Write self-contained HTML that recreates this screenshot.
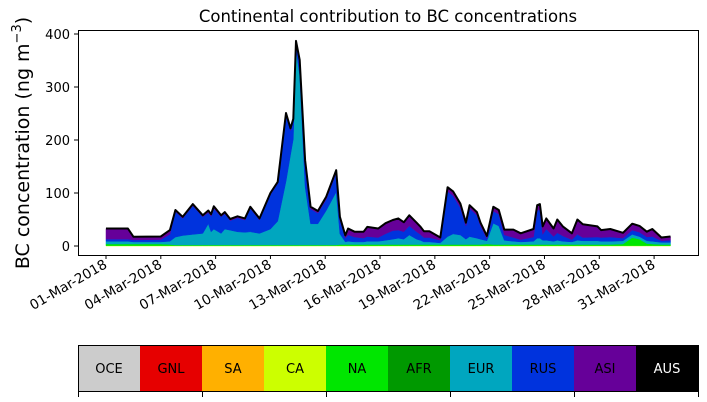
<!DOCTYPE html>
<html><head><meta charset="utf-8"><style>
body{margin:0;background:#fff;}
svg{display:block;font-family:"DejaVu Sans","Liberation Sans",sans-serif;}
</style></head><body>
<svg id="chart" width="707" height="402" viewBox="0 0 707 402">
<g id="areas"></g>
<rect x="78.5" y="30.5" width="620" height="225" fill="none" stroke="#000" stroke-width="1"/>
<g id="yaxis"></g>
<g id="xaxis"></g>
<text x="388" y="22" text-anchor="middle" font-size="16.5">Continental contribution to BC concentrations</text>
<text transform="translate(29,143) rotate(-90)" text-anchor="middle" font-size="19">BC concentration (ng m<tspan dy="-8" font-size="13">−3</tspan><tspan dy="8">)</tspan></text>
<g id="legend"></g>
</svg>
<script>
const times=[0,1.2,1.5,3,3.5,3.8,4.2,4.75,5.3,5.6,5.75,5.9,6.3,6.5,6.8,7.2,7.6,7.9,8.4,9.0,9.4,9.85,10.1,10.25,10.4,10.6,10.9,11.2,11.6,12.05,12.6,12.8,13.1,13.25,13.6,14.1,14.3,14.9,15.3,15.7,16.0,16.3,16.6,17.0,17.2,17.4,17.7,18.3,18.7,19.0,19.4,19.7,19.9,20.3,20.5,20.85,21.2,21.5,21.8,22.3,22.7,23.4,23.6,23.75,23.9,24.1,24.5,24.7,25.0,25.5,25.8,26.1,26.9,27.1,27.6,28.3,28.8,29.2,29.6,29.9,30.4,30.9];
const total=[33,33,17.5,18,30,68,55,79,58,67,60,75,58,64,51,56,52,74,52,100,121,251,222,240,387,351,162,74,66,93,143,55,20,33,27,27,36,33,43,49,52,45,58,44,37,28,28,16,111,103,80,44,77,64,44,19,74,68,31,31,24,32,77,79,37,52,33,50,37,24,50,41,37,30,32,25,42,38,27,32,16,18];
const asi=[20,20,6,6,8,3,3,3,3,4,4,4,3,3,3,3,3,3,3,3,3,4,4,4,4,4,4,4,4,5,5,5,5,12,10,12,18,17,20,20,22,18,20,17,15,12,12,5,8,8,8,6,6,6,6,5,8,8,10,15,12,15,10,10,15,20,15,25,18,12,28,25,20,14,15,10,12,12,10,14,6,7];
const eur=[5,5,4,4,6,15,18,20,22,40,25,30,22,30,28,25,24,25,22,30,45,120,170,200,370,320,110,40,40,65,100,20,5,6,5,5,6,6,8,10,12,10,18,10,8,5,5,3,15,20,18,10,15,12,10,6,40,35,8,6,5,6,12,12,8,8,6,8,6,5,8,7,7,6,6,6,6,5,5,5,4,4];
const na=[3,3,3,3,2,1,1,1,1,1,1,1,1,1,1,1,1,1,1,1,1,1,1,1,1,1,1,1,1,1,1,2,2,2,2,2,2,2,2,2,2,2,2,2,2,2,2,2,2,2,2,2,2,2,2,3,2,2,2,2,2,2,2,2,2,2,2,2,2,2,2,2,2,2,2,3,15,12,4,3,2,2];
const ca=times.map(()=>0.8);
const regions=["OCE","GNL","SA","CA","NA","AFR","EUR","RUS","ASI","AUS"];
const regionColors=["#cccccc","#e60000","#ffb000","#ccff00","#00e600","#009900","#00a6bf","#0033dd","#660099","#000000"];
const yTicks=[0,100,200,300,400];
const xTickDays=[0,3,6,9,12,15,18,21,24,27,30];
const xTickLabels=["01-Mar-2018","04-Mar-2018","07-Mar-2018","10-Mar-2018","13-Mar-2018","16-Mar-2018","19-Mar-2018","22-Mar-2018","25-Mar-2018","28-Mar-2018","31-Mar-2018"];

const NS="http://www.w3.org/2000/svg";
const xS=d=>106+d*18.27;
const yS=v=>246-v*0.53;
function mk(tag,attrs,parent){const e=document.createElementNS(NS,tag);for(const k in attrs)e.setAttribute(k,attrs[k]);parent.appendChild(e);return e;}

const rus=total.map((t,i)=>Math.max(0,t-asi[i]-eur[i]-na[i]-ca[i]));
const layers=[["CA",ca,3],["NA",na,4],["EUR",eur,6],["RUS",rus,7],["ASI",asi,8]];
const areas=document.getElementById('areas');
let base=times.map(()=>0);
layers.forEach(([nm,vals,ci])=>{
  const top=base.map((b,i)=>b+vals[i]);
  let d="M"+times.map((t,i)=>xS(t).toFixed(1)+","+yS(top[i]).toFixed(1)).join("L");
  for(let i=times.length-1;i>=0;i--)d+="L"+xS(times[i]).toFixed(1)+","+yS(base[i]).toFixed(1);
  const p=mk('path',{d:d+"Z",fill:regionColors[ci],stroke:regionColors[ci],'stroke-width':0.5},areas);
  
  
  base=top;
});
const tl=mk('path',{d:"M"+times.map((t,i)=>xS(t).toFixed(1)+","+yS(total[i]).toFixed(1)).join("L"),fill:"none",stroke:"#000",'stroke-width':2,'stroke-linejoin':'round'},areas);



const ya=document.getElementById('yaxis');
yTicks.forEach(v=>{
  const l=mk('line',{x1:74,x2:78,y1:yS(v),y2:yS(v),stroke:"#000"},ya);
  
  
  const t=mk('text',{x:70,y:yS(v)+5,'text-anchor':'end','font-size':13},ya);
  t.textContent=v;
  
  
});
const xa=document.getElementById('xaxis');
xTickDays.forEach((d,i)=>{
  const x=xS(d);
  const l=mk('line',{x1:x,x2:x,y1:255,y2:259,stroke:"#000"},xa);
  
  
  const t=mk('text',{transform:`translate(${x+2},${267}) rotate(-30)`,'text-anchor':'end','font-size':13.6},xa);
  t.textContent=xTickLabels[i];
  
  
});
const lg=document.getElementById('legend');
regions.forEach((r,i)=>{
  const x=78+i*62;
  const c=mk('rect',{x:x,y:346,width:62,height:46,fill:regionColors[i]},lg);
  
  
  const t=mk('text',{x:x+31,y:373,'text-anchor':'middle','font-size':13,fill:r==="AUS"?"#fff":"#000"},lg);
  t.textContent=r;
  
  
});
mk('rect',{x:78.5,y:345.5,width:620,height:46,fill:"none",stroke:"#000"},lg);
for(let k=0;k<=5;k++){const x=78.5+k*124;const l=mk('line',{x1:x,x2:x,y1:392,y2:397,stroke:"#000"},lg);

}
</script>
</body></html>
